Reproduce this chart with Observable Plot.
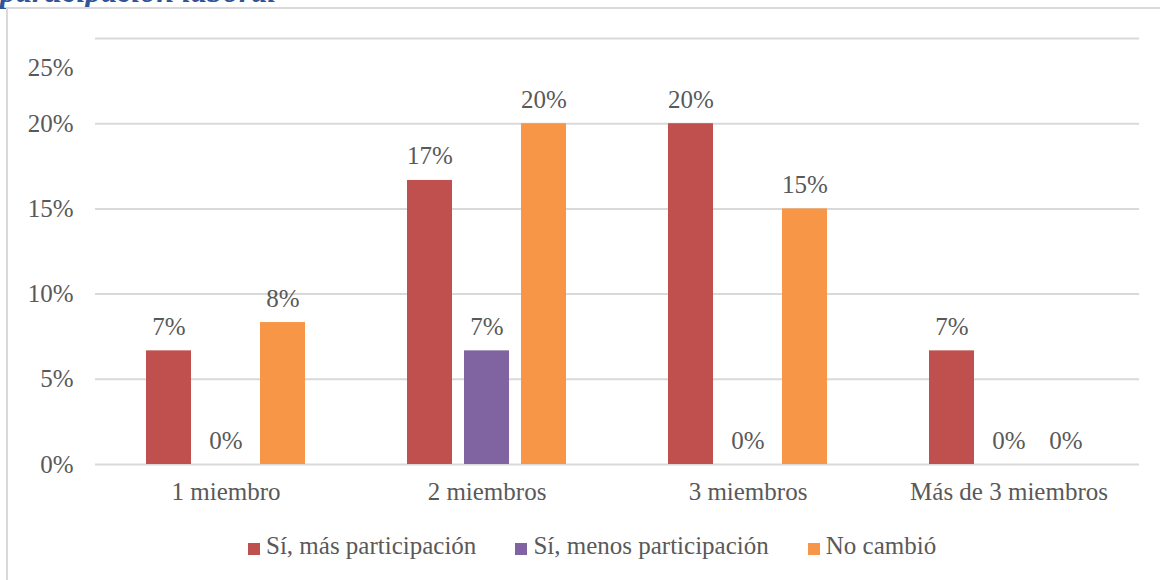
<!DOCTYPE html>
<html>
<head>
<meta charset="utf-8">
<script src="https://cdn.jsdelivr.net/npm/d3@7"></script>
<script src="https://cdn.jsdelivr.net/npm/@observablehq/plot@0.6"></script>
<style>
  html, body { margin: 0; padding: 0; background: #fff; }
  #page { position: relative; width: 1160px; height: 580px; overflow: hidden; font-family: "Liberation Serif", serif; }
  #title { position: absolute; left: 0; top: -25px; font-size: 32px; line-height: 32px; font-style: italic; font-weight: bold; color: #2F5597; white-space: nowrap; }
  #frame { position: absolute; left: 6px; top: 7px; width: 1200px; height: 620px; border: 2px solid #d9d9d9; box-sizing: border-box; }
  #chart { position: absolute; left: 0; top: 0; }
  #legend { position: absolute; left: 248px; top: 533px; display: flex; align-items: flex-end; font-size: 25px; line-height: 25px; color: #595959; white-space: nowrap; }
  .item { display: flex; align-items: flex-end; margin-right: 39px; }
  .sw { width: 12px; height: 12px; margin-right: 6px; margin-bottom: 3px; }
</style>
</head>
<body>
<div id="page">
  <div id="title">participación laboral</div>
  <div id="frame"></div>
  <div id="chart"></div>
  <div id="legend"></div>
</div>
<script>
const categories = ["1 miembro", "2 miembros", "3 miembros", "Más de 3 miembros"];
const series = ["Sí, más participación", "Sí, menos participación", "No cambió"];
const masParticipacion = [6.67, 16.67, 20, 6.67];
const menosParticipacion = [0, 6.67, 0, 0];
const noCambio = [8.33, 20, 15, 0];
const colors = ["#C0504D", "#8064A2", "#F79646"];
const yTicks = [0, 5, 10, 15, 20, 25];

const seriesValues = [masParticipacion, menosParticipacion, noCambio];
const data = [];
categories.forEach((c, i) => {
  series.forEach((s, j) => data.push({category: c, series: s, value: seriesValues[j][i]}));
});

const fmt = d => d + "%";

const chart = Plot.plot({
  width: 1160,
  height: 510,
  marginLeft: 94,
  marginRight: 20,
  marginTop: 38,
  marginBottom: 46,
  style: {fontFamily: "Liberation Serif", fontSize: "25px", color: "#595959", background: "transparent", overflow: "visible"},
  fx: {domain: categories, padding: 0, label: null},
  x: {domain: series, paddingInner: 0.207, paddingOuter: 0.858, axis: null},
  y: {domain: [0, 25], label: null},
  color: {domain: series, range: colors},
  marks: [
    Plot.gridY(yTicks, {stroke: "#d9d9d9", strokeOpacity: 1, strokeWidth: 2}),
    Plot.axisY(yTicks.slice(0, 5), {tickSize: 0, tickPadding: 22, tickFormat: fmt, label: null}),
    Plot.axisY(yTicks.slice(5), {tickSize: 0, tickPadding: 22, tickFormat: fmt, dy: 29, label: null}),
    Plot.axisFx({anchor: "bottom", tickSize: 0, tickPadding: 18, label: null}),
    Plot.barY(data, {fx: "category", x: "series", y: "value", fill: "series"}),
    Plot.text(data, {fx: "category", x: "series", y: "value", text: d => Math.round(d.value) + "%", dy: -24, fill: "#595959"})
  ]
});
document.getElementById("chart").appendChild(chart);

const legend = document.getElementById("legend");
series.forEach((s, j) => {
  const item = document.createElement("div");
  item.className = "item";
  const sw = document.createElement("div");
  sw.className = "sw";
  sw.style.background = colors[j];
  const t = document.createElement("span");
  t.textContent = s;
  item.appendChild(sw);
  item.appendChild(t);
  legend.appendChild(item);
});
</script>
</body>
</html>
